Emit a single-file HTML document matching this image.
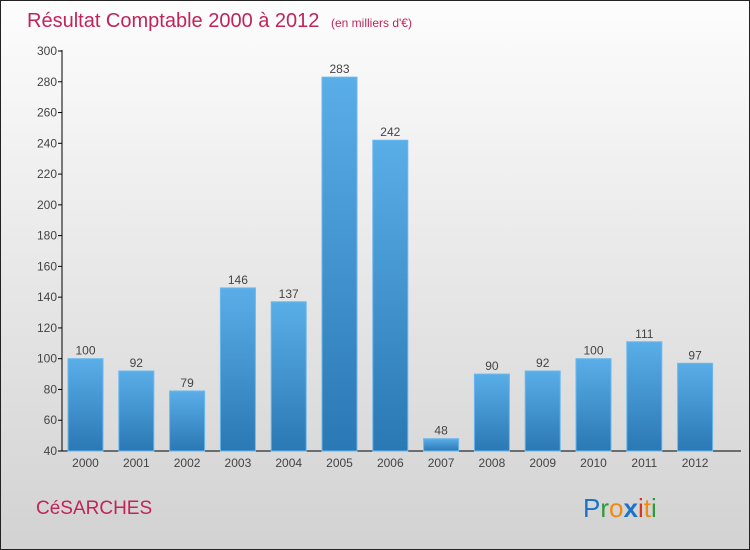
<!DOCTYPE html>
<html><head><meta charset="utf-8"><style>
body{margin:0;}
#c{width:748px;height:548px;border:1px solid #222;position:relative;background:linear-gradient(#fdfdfd,#d2d2d2);font-family:"Liberation Sans",sans-serif;overflow:hidden}
</style></head><body>
<div id="c">
<svg id="s" width="748" height="548" xmlns="http://www.w3.org/2000/svg">
<defs><linearGradient id="g" x1="0" y1="0" x2="0" y2="1"><stop offset="0" stop-color="#5aaee8"/><stop offset="1" stop-color="#2a78b4"/></linearGradient></defs>
<text x="26" y="26" font-size="20" fill="#c0245a">Résultat Comptable 2000 à 2012 <tspan font-size="12" dx="6">(en milliers d'€)</tspan></text>
<text x="35" y="513" font-size="19" fill="#c0245a">CéSARCHES</text>
<g font-size="26" font-family="'Liberation Sans',sans-serif">
<text x="582" y="516"><tspan fill="#1a73c8">P</tspan><tspan fill="#2e9a3a">r</tspan><tspan fill="#f28a10">o</tspan><tspan fill="#1a73c8" font-weight="bold">x</tspan><tspan fill="#e03020">i</tspan><tspan fill="#f28a10">t</tspan><tspan fill="#2e9a3a">i</tspan></text></g>
<g id="ax"></g><g id="bars"></g>
</svg></div>
<script>
const years=["2000","2001","2002","2003","2004","2005","2006","2007","2008","2009","2010","2011","2012"];
const values=[100,92,79,146,137,283,242,48,90,92,100,111,97];
const yTicks=[40,60,80,100,120,140,160,180,200,220,240,260,280,300];
const NS="http://www.w3.org/2000/svg";
const y=v=>450-(v-40)*400/260;
const x=i=>84.5+i*50.8;
function el(t,a,p){const e=document.createElementNS(NS,t);for(const k in a)e.setAttribute(k,a[k]);p.appendChild(e);return e;}
const ax=document.getElementById('ax'),bars=document.getElementById('bars');
const yl=el('line',{x1:61,y1:49,x2:61,y2:450,stroke:'#000'},ax);


const xl=el('line',{x1:61,y1:450,x2:740,y2:450,stroke:'#000'},ax);


yTicks.forEach(t=>{
 el('line',{x1:57,x2:61,y1:y(t),y2:y(t),stroke:'#000'},ax);
 const tx=el('text',{x:56,y:y(t)+4,'text-anchor':'end','font-size':12,fill:'#444'},ax);tx.textContent=t;
 
 
});
values.forEach((v,i)=>{
 const r=el('rect',{x:x(i)-17.5,y:y(v),width:35,height:450-y(v),fill:'url(#g)',stroke:'#6ab8ee','stroke-width':1},bars);
 
 
 const l=el('text',{x:x(i),y:y(v)-4,'text-anchor':'middle','font-size':12,fill:'#444'},bars);l.textContent=v;
 
 
 const xt=el('text',{x:x(i),y:466,'text-anchor':'middle','font-size':12,fill:'#444'},bars);xt.textContent=years[i];
 
 
});
</script>
</body></html>
